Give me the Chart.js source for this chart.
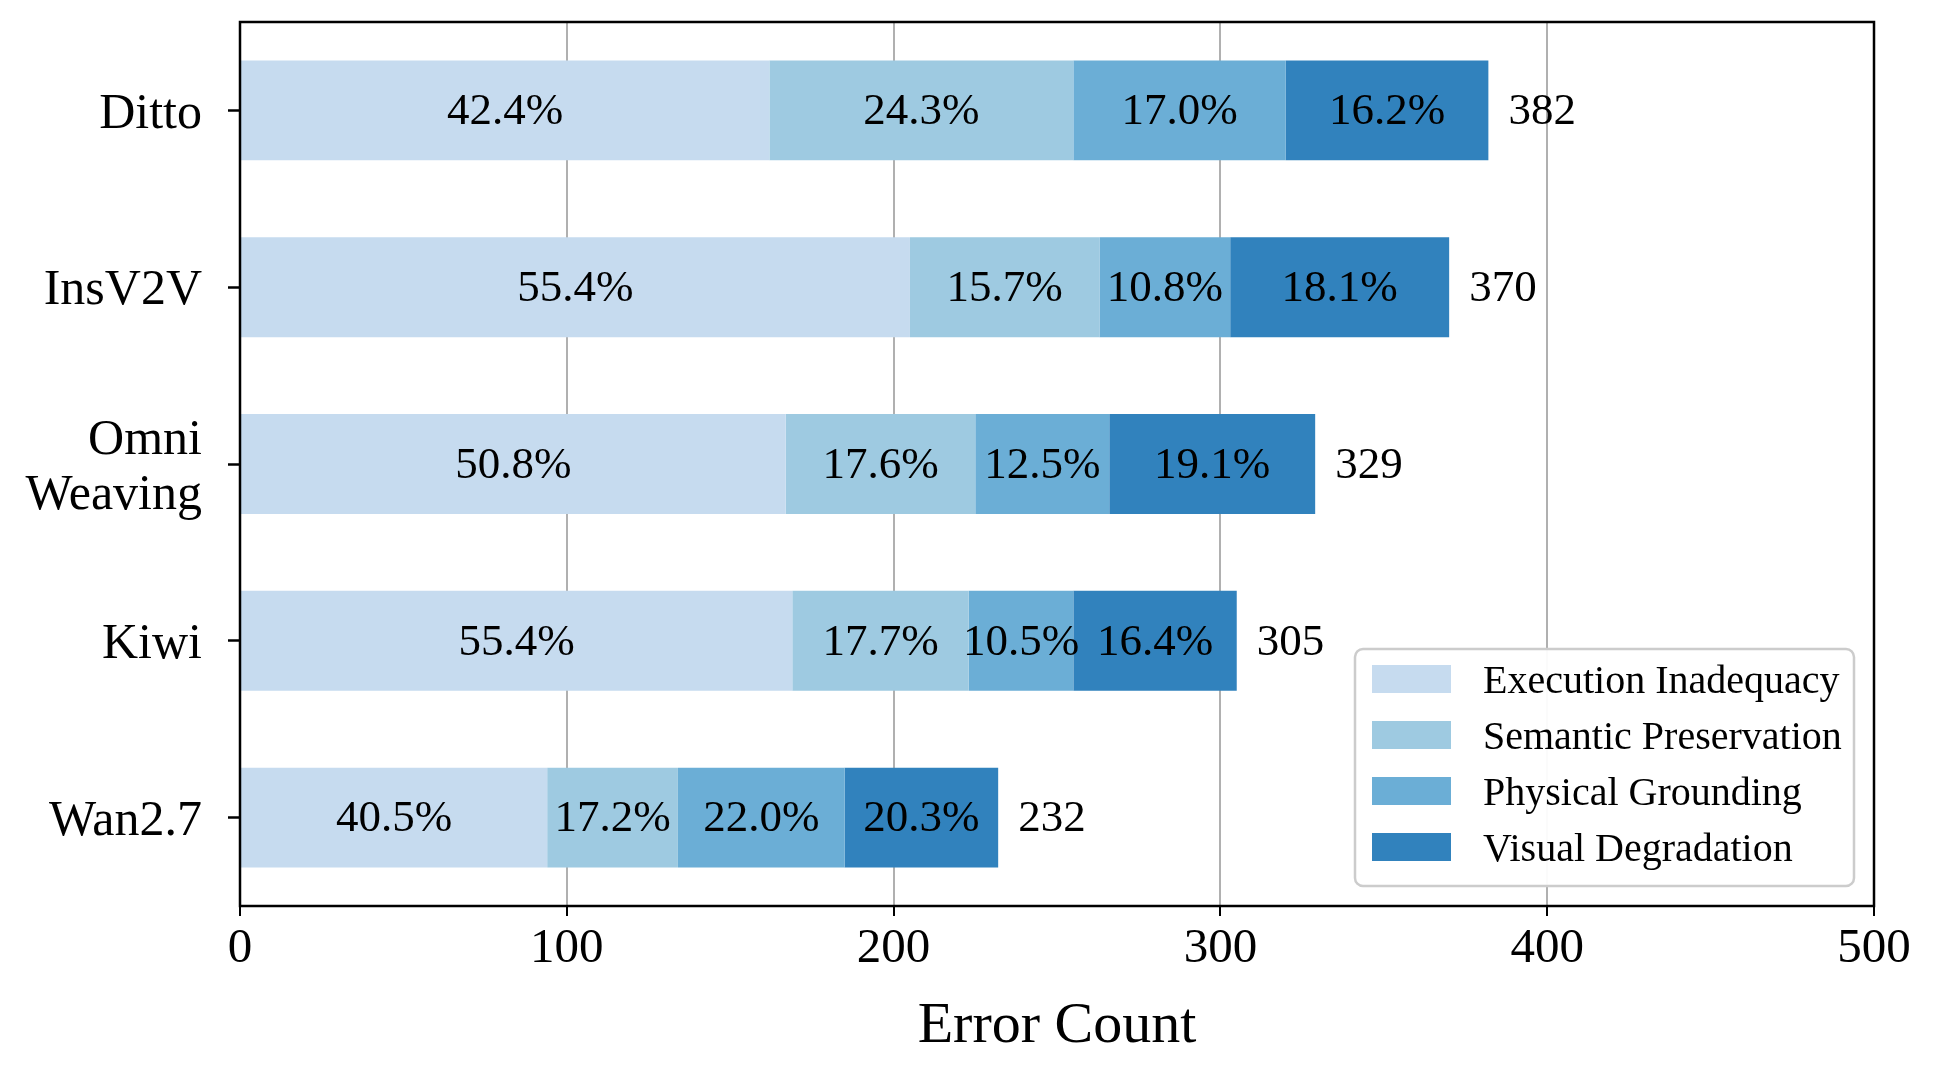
<!DOCTYPE html>
<html>
<head>
<meta charset="utf-8">
<script src="https://cdn.jsdelivr.net/npm/chart.js@4/dist/chart.umd.min.js"></script>
<style>
  html, body { margin: 0; padding: 0; background: #fff; }
</style>
</head>
<body>
<canvas id="errorChart" width="1935" height="1067"></canvas>
<script>
// Error counts per model, split by error type
const models = ["Ditto", "InsV2V", ["Omni", "Weaving"], "Kiwi", "Wan2.7"];
const errorTypes = ["Execution Inadequacy", "Semantic Preservation", "Physical Grounding", "Visual Degradation"];
const executionInadequacy = [162, 205, 167, 169, 94];
const semanticPreservation = [93, 58, 58, 54, 40];
const physicalGrounding = [65, 40, 41, 32, 51];
const visualDegradation = [62, 67, 63, 50, 47];
const xTicks = [0, 100, 200, 300, 400, 500];
const colors = ["#c6dbef", "#9ecae1", "#6baed6", "#3182bd"];

const FONT = "'Liberation Serif', 'Times New Roman', serif";
const seriesValues = [executionInadequacy, semanticPreservation, physicalGrounding, visualDegradation];

// percentages inside the segments + totals after each bar
const barLabels = {
  id: "barLabels",
  afterDatasetsDraw(chart) {
    const ctx = chart.ctx;
    const sets = chart.data.datasets;
    ctx.save();
    ctx.font = "45px " + FONT;
    ctx.fillStyle = "#000";
    ctx.textBaseline = "middle";
    chart.data.labels.forEach((_, i) => {
      const total = sets.reduce((s, d) => s + d.data[i], 0);
      sets.forEach((ds, j) => {
        const bar = chart.getDatasetMeta(j).data[i];
        ctx.textAlign = "center";
        ctx.fillText((ds.data[i] / total * 100).toFixed(1) + "%", (bar.x + bar.base) / 2, bar.y + 2);
      });
      const last = chart.getDatasetMeta(sets.length - 1).data[i];
      ctx.textAlign = "left";
      ctx.fillText(String(total), last.x + 20, last.y + 2);
    });
    ctx.restore();
  }
};

// black box around the plot and the legend in the lower right corner
const frameAndLegend = {
  id: "frameAndLegend",
  afterDraw(chart) {
    const ctx = chart.ctx;
    const a = chart.chartArea;
    ctx.save();
    ctx.strokeStyle = "#000";
    ctx.lineWidth = 2.5;
    ctx.strokeRect(a.left, a.top, a.right - a.left, a.bottom - a.top);

    const w = 499, h = 237;
    const x0 = a.right - 20 - w, y0 = a.bottom - 20 - h;
    ctx.beginPath();
    ctx.roundRect(x0, y0, w, h, 8);
    ctx.fillStyle = "rgba(255,255,255,0.95)";
    ctx.fill();
    ctx.strokeStyle = "#cccccc";
    ctx.lineWidth = 2.5;
    ctx.stroke();

    ctx.font = "40px " + FONT;
    ctx.textBaseline = "middle";
    ctx.textAlign = "left";
    chart.data.datasets.forEach((ds, j) => {
      const cy = y0 + 30 + j * 56;
      ctx.fillStyle = ds.backgroundColor;
      ctx.fillRect(x0 + 17, cy - 14, 79, 28);
      ctx.fillStyle = "#000";
      ctx.fillText(ds.label, x0 + 128, cy + 3);
    });
    ctx.restore();
  }
};

new Chart(document.getElementById("errorChart").getContext("2d"), {
  type: "bar",
  data: {
    labels: models,
    datasets: errorTypes.map((name, j) => ({
      label: name,
      data: seriesValues[j],
      backgroundColor: colors[j],
      borderWidth: 0,
      barPercentage: 0.565,
      categoryPercentage: 1
    }))
  },
  options: {
    indexAxis: "y",
    responsive: false,
    animation: false,
    layout: { padding: { top: 22, right: 61, left: 0, bottom: 0 } },
    plugins: {
      legend: { display: false },
      tooltip: { enabled: false }
    },
    scales: {
      x: {
        stacked: true,
        min: 0,
        max: 500,
        afterBuildTicks(scale) { scale.ticks = xTicks.map(v => ({ value: v })); },
        afterFit(scale) { scale.height = 161; },
        grid: { color: "#b0b0b0", lineWidth: 2, tickColor: "#000", tickLength: 10, tickWidth: 2 },
        border: { display: false },
        ticks: { font: { family: FONT, size: 49 }, color: "#000", padding: 4, maxRotation: 0 },
        title: {
          display: true,
          text: "Error Count",
          font: { family: FONT, size: 58 },
          color: "#000",
          padding: { top: 0, bottom: 5 }
        }
      },
      y: {
        stacked: true,
        afterFit(scale) {
          scale.width = 240;
          scale.paddingTop = 0;
          scale.paddingBottom = 0;
        },
        grid: { offset: false, drawOnChartArea: false, tickColor: "#000", tickLength: 12, tickWidth: 2.5 },
        border: { display: false },
        ticks: { font: { family: FONT, size: 50, lineHeight: 1.1 }, color: "#000", padding: 26, labelOffset: 4 }
      }
    }
  },
  plugins: [barLabels, frameAndLegend]
});
</script>
</body>
</html>
